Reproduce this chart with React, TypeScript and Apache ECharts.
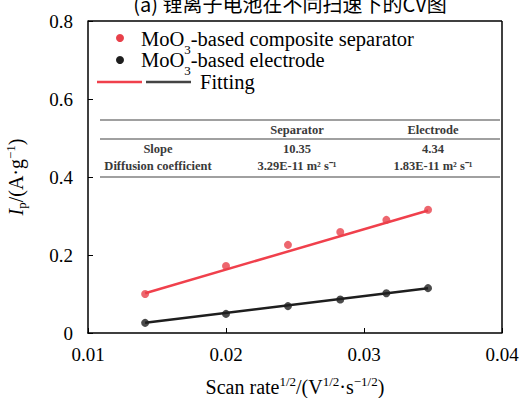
import React, { useEffect, useRef } from "react";
import * as echarts from "echarts";

const scanRate = [0.01414, 0.02, 0.02449, 0.02828, 0.03162, 0.03464];
const separatorIp = [0.1, 0.172, 0.226, 0.259, 0.29, 0.316];
const electrodeIp = [0.026, 0.049, 0.069, 0.086, 0.102, 0.115];
const fitX = [0.01414, 0.03464];
const separatorFit = [0.102, 0.314];
const electrodeFit = [0.026, 0.115];
const seriesNames = ["{base|MoO}{sub|3}{base|-based composite separator}", "{base|MoO}{sub|3}{base|-based electrode}", "Fitting"];
const tableHeader = ["", "Separator", "Electrode"];
const tableRows = [
  ["Slope", "10.35", "4.34"],
  ["Diffusion coefficient", "3.29E-11 m\u00b2 s\u207b\u00b9", "1.83E-11 m\u00b2 s\u207b\u00b9"],
];
const titleText = "(a) 锂离子电池在不同扫速下的CV图";

const SERIF = "Liberation Serif";
const RED = "#e8404a";
const BLACK = "#1e1e1e";

export default function App() {
  const ref = useRef<HTMLDivElement>(null);
  useEffect(() => {
    const chart = echarts.init(ref.current!, null, { renderer: "svg" });
    const legendRich = {
      base: { fontSize: 20.5, fontFamily: SERIF, color: "#000", lineHeight: 22 },
      sub: { fontSize: 13, verticalAlign: "bottom", lineHeight: 18, fontFamily: SERIF, color: "#000", padding: [0, 0, -6, 0] },
    };
    const colX = [158, 297, 433];
    const tableTexts: any[] = [];
    const rowsAll = [tableHeader, ...tableRows];
    const rowY = [130, 149, 166];
    rowsAll.forEach((row, ri) => {
      row.forEach((t, ci) => {
        if (!t) return;
        tableTexts.push({
          type: "text",
          x: colX[ci],
          y: rowY[ri],
          style: {
            text: t,
            fontSize: 12.5,
            fontWeight: "bold",
            fontFamily: SERIF,
            fill: "#3a3a3a",
            align: "center",
            verticalAlign: "middle",
          },
        });
      });
    });
    const hLine = (y: number) => [
      { type: "line", shape: { x1: 100, y1: y, x2: 500, y2: y }, style: { stroke: "#a0a0a0", lineWidth: 2 } },
    ];
    chart.setOption({
      animation: false,
      textStyle: { fontFamily: SERIF },
      grid: { left: 88, right: 25, top: 21, bottom: 65, show: false, containLabel: false, outerBoundsMode: "none" },
      xAxis: {
        type: "value",
        min: 0.01,
        max: 0.04,
        interval: 0.01,
        name: "{b|Scan rate}{sup|1/2}{b|/(V}{sup|1/2}{b|·s}{sup|\u22121/2}{b|)}",
        nameLocation: "middle",
        nameGap: 42,
        nameTextStyle: {
          fontSize: 20,
          fontFamily: SERIF,
          color: "#000",
          rich: {
            b: { fontSize: 20, fontFamily: SERIF, color: "#000", lineHeight: 24 },
            sup: { fontSize: 13, verticalAlign: "top", lineHeight: 15, fontFamily: SERIF, color: "#000" },
          },
        },
        axisLine: { lineStyle: { color: "#000", width: 1.5 } },
        axisTick: { inside: true, length: 5, lineStyle: { color: "#000" } },
        axisLabel: { fontSize: 19, fontFamily: SERIF, color: "#000", margin: 12, formatter: (v: number) => String(Math.round(v * 100) / 100) },
        splitLine: { show: false },
      },
      yAxis: {
        type: "value",
        min: 0,
        max: 0.8,
        interval: 0.2,
        name: "{it|I}{sub|p}{b|/(A·g}{sup|\u22121}{b|)}",
        nameLocation: "middle",
        nameRotate: 90,
        nameGap: 60,
        nameTextStyle: {
          fontSize: 20,
          fontFamily: SERIF,
          color: "#000",
          rich: {
            b: { fontSize: 20, fontFamily: SERIF, color: "#000", lineHeight: 24 },
            it: { fontSize: 20, fontStyle: "italic", fontFamily: SERIF, color: "#000", lineHeight: 24 },
            sub: { fontSize: 13, verticalAlign: "bottom", lineHeight: 18, fontFamily: SERIF, color: "#000" },
            sup: { fontSize: 13, verticalAlign: "top", lineHeight: 15, fontFamily: SERIF, color: "#000" },
          },
        },
        axisLine: { show: true, lineStyle: { color: "#000", width: 1.5 } },
        axisTick: { show: true, inside: true, length: 5, lineStyle: { color: "#000" } },
        axisLabel: { fontSize: 19, fontFamily: SERIF, color: "#000", margin: 15, formatter: (v: number) => String(Math.round(v * 10) / 10) },
        splitLine: { show: false },
      },
      series: [
        {
          type: "line",
          data: fitX.map((x, i) => [x, separatorFit[i]]),
          showSymbol: false,
          lineStyle: { color: "#f0404c", width: 2.5 },
          z: 2,
        },
        {
          type: "line",
          data: fitX.map((x, i) => [x, electrodeFit[i]]),
          showSymbol: false,
          lineStyle: { color: BLACK, width: 2.5 },
          z: 2,
        },
        {
          type: "scatter",
          name: "separator",
          data: scanRate.map((x, i) => [x, separatorIp[i]]),
          symbolSize: 8,
          itemStyle: { color: RED },
          z: 3,
        },
        {
          type: "scatter",
          name: "electrode",
          data: scanRate.map((x, i) => [x, electrodeIp[i]]),
          symbolSize: 8,
          itemStyle: { color: BLACK },
          z: 3,
        },
      ],
      graphic: [
        { type: "line", shape: { x1: 88, y1: 21, x2: 502, y2: 21 }, style: { stroke: "#000", lineWidth: 1.5 } },
        { type: "line", shape: { x1: 502, y1: 21, x2: 502, y2: 333 }, style: { stroke: "#000", lineWidth: 1.5 } },
        {
          type: "text",
          x: 290,
          y: 3,
          style: { text: titleText, fontSize: 20, fontFamily: "Noto Sans CJK SC", fill: "#000", align: "center", verticalAlign: "middle" },
        },
        { type: "circle", shape: { cx: 120, cy: 38, r: 4 }, style: { fill: RED } },
        { type: "circle", shape: { cx: 120, cy: 60, r: 4 }, style: { fill: BLACK } },
        { type: "line", shape: { x1: 97, y1: 82, x2: 142, y2: 82 }, style: { stroke: "#f0404c", lineWidth: 2.5 } },
        { type: "line", shape: { x1: 146, y1: 82, x2: 191, y2: 82 }, style: { stroke: "#444", lineWidth: 2.5 } },
        {
          type: "text", x: 141, y: 39,
          style: { text: seriesNames[0], fontSize: 20.5, fontFamily: SERIF, fill: "#000", verticalAlign: "middle", rich: legendRich },
        },
        {
          type: "text", x: 141, y: 60,
          style: { text: seriesNames[1], fontSize: 20.5, fontFamily: SERIF, fill: "#000", verticalAlign: "middle", rich: legendRich },
        },
        {
          type: "text", x: 200, y: 82,
          style: { text: seriesNames[2], fontSize: 20.5, fontFamily: SERIF, fill: "#000", verticalAlign: "middle" },
        },
        ...hLine(120),
        ...hLine(139),
        ...hLine(177),
        ...tableTexts,
      ],
    });
    return () => chart.dispose();
  }, []);
  return <div ref={ref} style={{ position: "fixed", left: 0, top: 0, width: 527, height: 398, background: "#fff" }} />;
}
